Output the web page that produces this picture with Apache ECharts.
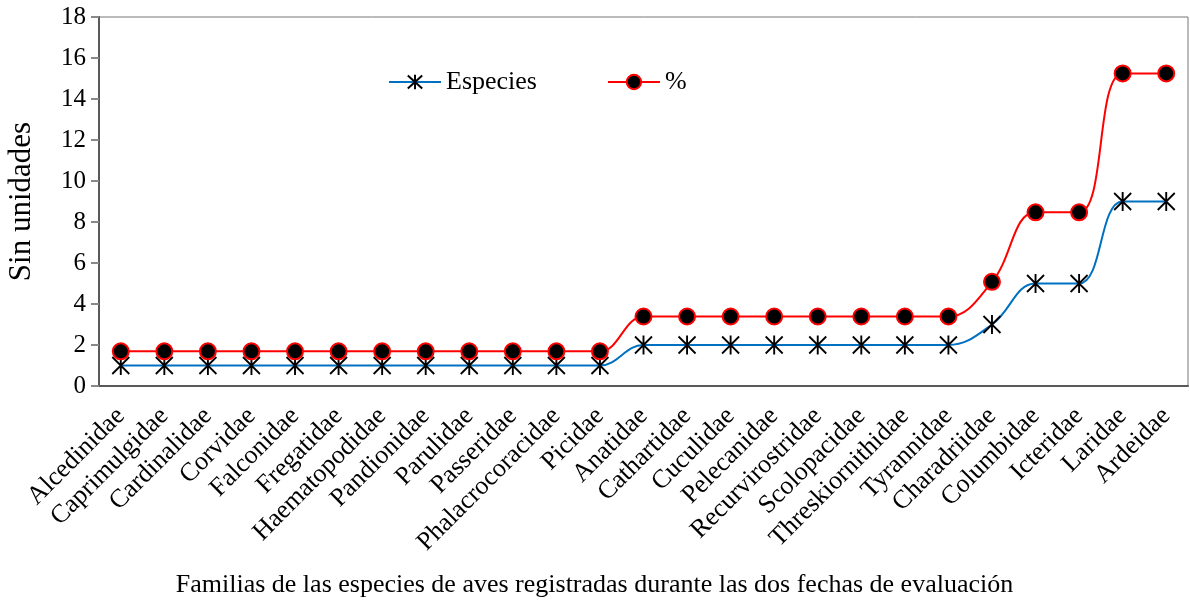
<!DOCTYPE html>
<html>
<head>
<meta charset="utf-8">
<script src="https://cdn.jsdelivr.net/npm/echarts@6/dist/echarts.min.js"></script>
<style>
  html, body { margin: 0; padding: 0; background: #fff; }
  #chart-container { width: 1190px; height: 605px; }
</style>
</head>
<body>
<div id="chart-container"></div>
<script>
var familias = ['Alcedinidae', 'Caprimulgidae', 'Cardinalidae', 'Corvidae', 'Falconidae',
  'Fregatidae', 'Haematopodidae', 'Pandionidae', 'Parulidae', 'Passeridae',
  'Phalacrocoracidae', 'Picidae', 'Anatidae', 'Cathartidae', 'Cuculidae',
  'Pelecanidae', 'Recurvirostridae', 'Scolopacidae', 'Threskiornithidae', 'Tyrannidae',
  'Charadriidae', 'Columbidae', 'Icteridae', 'Laridae', 'Ardeidae'];
var especies = [1, 1, 1, 1, 1, 1, 1, 1, 1, 1, 1, 1, 2, 2, 2, 2, 2, 2, 2, 2, 3, 5, 5, 9, 9];
var porcentaje = [1.69, 1.69, 1.69, 1.69, 1.69, 1.69, 1.69, 1.69, 1.69, 1.69, 1.69, 1.69,
  3.39, 3.39, 3.39, 3.39, 3.39, 3.39, 3.39, 3.39, 5.08, 8.47, 8.47, 15.25, 15.25];
var yTicks = [0, 18, 2];

var chartDom = document.getElementById('chart-container');
var myChart = echarts.init(chartDom);

var serif = '"Liberation Serif", "Times New Roman", serif';
// asterisco: linea vertical + X
var asterisk = 'path://M0,-9L0,9M-8,-8L8,8M-8,8L8,-8';

var option = {
  animation: false,
  textStyle: { fontFamily: serif },
  legend: {
    top: 64,
    left: 383,
    itemGap: 70,
    itemWidth: 52,
    itemHeight: 18,
    textStyle: { fontFamily: serif, fontSize: 26, color: '#000' },
    data: ['Especies', '%']
  },
  grid: {
    left: 99,
    right: 2,
    top: 17,
    bottom: 219,
    outerBoundsMode: 'none',
    containLabel: false,
    show: true,
    borderColor: '#777',
    borderWidth: 1
  },
  xAxis: {
    type: 'category',
    data: familias,
    name: 'Familias de las especies de aves registradas durante las dos fechas de evaluación',
    nameLocation: 'middle',
    nameGap: 186,
    nameTextStyle: { fontFamily: serif, fontSize: 26, color: '#000', padding: [0, 98, 0, 0] },
    axisLine: { lineStyle: { color: '#595959', width: 2 } },
    axisTick: { alignWithLabel: true, length: 8, lineStyle: { color: '#888', width: 2 } },
    axisLabel: {
      rotate: 45,
      interval: 0,
      fontFamily: serif,
      fontSize: 26,
      color: '#000',
      margin: 26
    }
  },
  yAxis: {
    type: 'value',
    min: yTicks[0],
    max: yTicks[1],
    interval: yTicks[2],
    name: 'Sin unidades',
    nameLocation: 'middle',
    nameGap: 62,
    nameTextStyle: { fontFamily: serif, fontSize: 31, color: '#000' },
    splitLine: { show: false },
    axisLine: { show: true, lineStyle: { color: '#595959', width: 2 } },
    axisTick: { show: true, length: 8, lineStyle: { color: '#888', width: 2 } },
    axisLabel: { fontFamily: serif, fontSize: 25, color: '#000', margin: 13 }
  },
  series: [
    {
      name: 'Especies',
      type: 'line',
      data: especies,
      smooth: 0.4,
      symbol: asterisk,
      symbolSize: [17, 19],
      lineStyle: { color: '#0070c0', width: 2 },
      itemStyle: { color: 'none', borderColor: '#000', borderWidth: 2 },
      z: 3
    },
    {
      name: '%',
      type: 'line',
      data: porcentaje,
      smooth: 0.4,
      symbol: 'circle',
      symbolSize: 16,
      lineStyle: { color: '#ff0000', width: 2 },
      itemStyle: { color: '#000', borderColor: '#ff0000', borderWidth: 2 },
      z: 4
    }
  ]
};

option && myChart.setOption(option);
</script>
</body>
</html>
